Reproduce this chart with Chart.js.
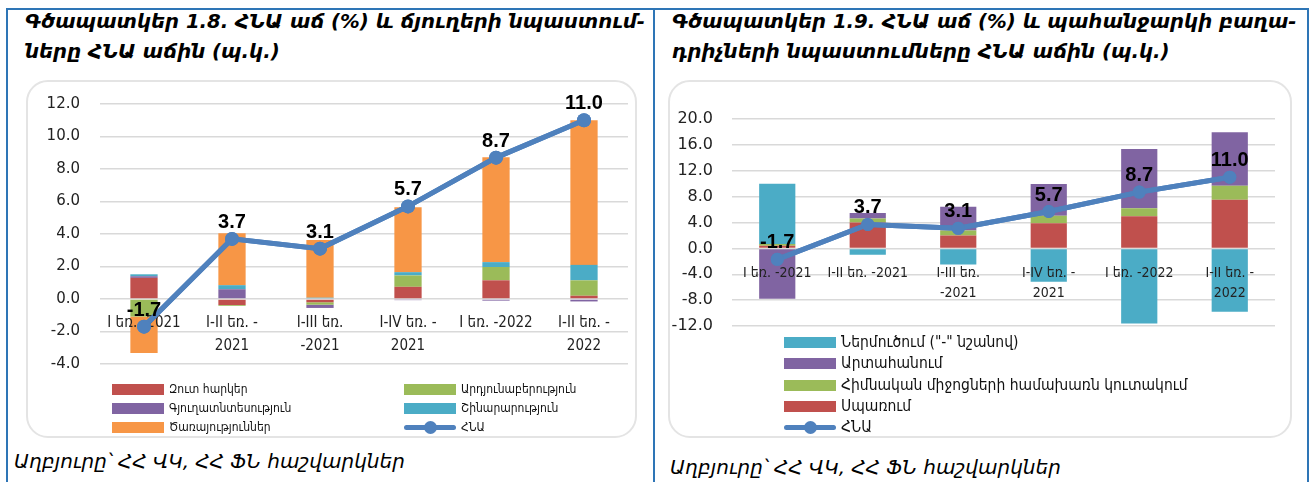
<!DOCTYPE html>
<html>
<head>
<meta charset="utf-8">
<script src="https://cdn.jsdelivr.net/npm/chart.js@4.4.0/dist/chart.umd.min.js"></script>
<style>
  body { margin: 0; background: #fff; width: 1309px; height: 482px; overflow: hidden; position: relative; font-family: "DejaVu Sans", sans-serif; color: #000; }
  .frame { position: absolute; left: 6px; top: 8px; width: 1299px; height: 480px; border: 2px solid #2E75B6; border-bottom: none; }
  .divider { position: absolute; left: 653px; top: 8px; width: 2px; height: 480px; background: #2E75B6; }
  .title { position: absolute; font-weight: bold; font-style: italic; font-size: 19.7px; white-space: nowrap; }
  .box { position: absolute; border: 2px solid #e4e4e4; border-radius: 22px; box-sizing: border-box; }
  .src { position: absolute; font-style: italic; font-size: 20px; white-space: nowrap; }
  .wrap { position: absolute; }
  .leg { position: absolute; display: flex; align-items: center; white-space: nowrap; color: #111; font-family: "DejaVu Sans Condensed", "DejaVu Sans", sans-serif; font-stretch: condensed; }
  .sw { width: 52px; height: 11px; margin-right: 5px; flex: none; }
  .ln { width: 52px; height: 11px; margin-right: 5px; position: relative; flex: none; }
  .ln::before { content: ""; position: absolute; left: 0; right: 0; top: 3px; height: 5px; background: #4F81BD; border-radius: 3px; }
  .ln::after { content: ""; position: absolute; left: 20px; top: -1px; width: 13px; height: 13px; border-radius: 50%; background: #4F81BD; }
</style>
</head>
<body>
<div class="frame"></div>
<div class="divider"></div>

<div class="title" style="left:25px;top:10px;">Գծապատկեր 1.8. ՀՆԱ աճ (%) և ճյուղերի նպաստում-</div>
<div class="title" style="left:25px;top:40px;">ները ՀՆԱ աճին (պ.կ.)</div>
<div class="title" style="left:672px;top:10px;">Գծապատկեր 1.9. ՀՆԱ աճ (%) և պահանջարկի բաղա-</div>
<div class="title" style="left:672px;top:40px;">դրիչների նպաստումները ՀՆԱ աճին (պ.կ.)</div>

<div class="box" style="left:26px;top:80px;width:611px;height:358px;"></div>
<div class="box" style="left:668px;top:80px;width:624px;height:358px;"></div>

<div class="wrap" style="left:26px;top:80px;width:610px;height:300px;"><canvas id="chartL" width="610" height="300"></canvas></div>
<div class="wrap" style="left:668px;top:80px;width:623px;height:270px;"><canvas id="chartR" width="623" height="270"></canvas></div>

<div class="src" style="left:14px;top:449px;">Աղբյուրը՝ ՀՀ ՎԿ, ՀՀ ՖՆ հաշվարկներ</div>
<div class="src" style="left:670px;top:455px;">Աղբյուրը՝ ՀՀ ՎԿ, ՀՀ ՖՆ հաշվարկներ</div>

<script>
// Chart 1.8 - sector contributions (p.p.)
const catsL = [["I եռ. -2021"], ["I-II եռ. -", "2021"], ["I-III եռ.", "-2021"], ["I-IV եռ. -", "2021"], ["I եռ. -2022"], ["I-II եռ. -", "2022"]];
const netTaxes = [1.3, -0.37, -0.2, 0.75, 1.15, 0.2];
const industry = [-1.08, -0.05, -0.15, 0.7, 0.82, 0.95];
const agriculture = [0.1, 0.6, -0.2, -0.07, -0.1, -0.15];
const construction = [0.12, 0.25, 0.08, 0.2, 0.3, 0.95];
const services = [-2.25, 3.2, 3.55, 4.0, 6.45, 8.9];
const gdpL = [-1.7, 3.7, 3.1, 5.7, 8.7, 11.0];

// Chart 1.9 - demand components contributions (p.p.)
const catsR = [["I եռ. -2021"], ["I-II եռ. -2021"], ["I-III եռ.", "-2021"], ["I-IV եռ. -", "2021"], ["I եռ. -2022"], ["I-II եռ. -", "2022"]];
const consumption = [0.4, 4.0, 2.0, 3.9, 4.95, 7.5];
const investment = [0.26, 0.6, 0.75, 1.15, 1.25, 2.2];
const exportsC = [-7.8, 0.85, 3.7, 4.9, 9.15, 8.25];
const importsC = [9.32, -1.0, -2.5, -5.15, -11.6, -9.8];
const gdpR = [-1.7, 3.7, 3.1, 5.7, 8.7, 11.0];

const RED = "#C0504D", GREEN = "#9BBB59", PURPLE = "#8064A2", CYAN = "#4BACC6", ORANGE = "#F79646", BLUE = "#4F81BD";

Chart.defaults.font.family = "'DejaVu Sans', sans-serif";
Chart.defaults.color = "#222";

// GDP line redrawn over the category labels, plus value labels above its points
const gdpLabels = {
  id: "gdpLabels",
  afterDraw(chart, args, opts) {
    const ctx = chart.ctx;
    chart.data.datasets.forEach((ds, i) => {
      if (ds.type !== "line") return;
      const meta = chart.getDatasetMeta(i);
      meta.controller.draw();
      ctx.save();
      ctx.font = "bold " + opts.size + "px 'Liberation Sans', Arial, sans-serif";
      ctx.fillStyle = "#000";
      ctx.textAlign = "center";
      ctx.textBaseline = "alphabetic";
      meta.data.forEach((pt, j) => {
        ctx.fillText(ds.data[j].toFixed(1), pt.x, pt.y - opts.gap);
      });
      ctx.restore();
    });
  }
};

function bar(label, data, color) {
  return { type: "bar", label: label, data: data, backgroundColor: color, order: 1, stack: "s" };
}

function makeChart(id, cats, bars, gdp, cfg) {
  new Chart(document.getElementById(id), {
    data: {
      labels: cats,
      datasets: bars.concat([{
        type: "line", label: "ՀՆԱ", data: gdp, stack: "gdp", order: 0,
        borderColor: BLUE, backgroundColor: BLUE, borderWidth: 5,
        pointRadius: cfg.pointR, pointBackgroundColor: BLUE, pointBorderWidth: 0
      }])
    },
    options: {
      responsive: false,
      animation: false,
      layout: { padding: cfg.padding },
      datasets: { bar: { barPercentage: cfg.barPct, categoryPercentage: 1 } },
      plugins: {
        legend: { display: false },
        tooltip: { enabled: false },
        gdpLabels: { size: 20, gap: cfg.gap }
      },
      scales: {
        x: {
          stacked: true,
          position: { y: 0 },
          grid: { display: false },
          border: { display: false },
          ticks: { z: 1, autoSkip: false, maxRotation: 0, padding: cfg.xPad, color: "#222",
                   font: { family: "'DejaVu Sans Condensed', 'DejaVu Sans', sans-serif", size: cfg.xSize, lineHeight: cfg.xLine } }
        },
        y: {
          stacked: true,
          min: cfg.min, max: cfg.max,
          afterFit: s => { s.width = cfg.yWidth; },
          grid: { color: "#d9d9d9", lineWidth: 1.5, drawTicks: true, tickLength: cfg.yGap, tickColor: "rgba(0,0,0,0)" },
          border: { display: false },
          ticks: { stepSize: cfg.step, padding: 4, font: { size: cfg.ySize }, color: "#222", callback: v => v.toFixed(1) }
        }
      }
    },
    plugins: [gdpLabels]
  });
}

makeChart("chartL", catsL, [
  bar("Զուտ հարկեր", netTaxes, RED),
  bar("Արդյունաբերություն", industry, GREEN),
  bar("Գյուղատնտեսություն", agriculture, PURPLE),
  bar("Շինարարություն", construction, CYAN),
  bar("Ծառայություններ", services, ORANGE)
], gdpL, { min: -4, max: 12, step: 2, padding: { top: 24, bottom: 16, right: 8, left: 0 }, yWidth: 74, yGap: 16, ySize: 15, barPct: 0.31, pointR: 7, gap: 11, xPad: 5, xSize: 15, xLine: 1.5 });

makeChart("chartR", catsR, [
  bar("Սպառում", consumption, RED),
  bar("Հիմնական միջոցների համախառն կուտակում", investment, GREEN),
  bar("Արտահանում", exportsC, PURPLE),
  bar("Ներմուծում (\"-\" նշանով)", importsC, CYAN)
], gdpR, { min: -12, max: 20, step: 4, padding: { top: 39, bottom: 24, right: 16, left: 0 }, yWidth: 64, yGap: 15, ySize: 16, barPct: 0.4, pointR: 6.5, gap: 11, xPad: 7, xSize: 14, xLine: 1.45 });

// HTML legends
function legendItem(x, y, size, text, color) {
  const d = document.createElement("div");
  d.className = "leg";
  d.style.left = x + "px";
  d.style.top = (y - 10) + "px";
  d.style.height = "20px";
  d.style.fontSize = size + "px";
  const s = document.createElement("span");
  if (color) { s.className = "sw"; s.style.background = color; } else { s.className = "ln"; }
  d.appendChild(s);
  d.appendChild(document.createTextNode(text));
  document.body.appendChild(d);
}
const legL = [["Զուտ հարկեր", RED, 112, 389], ["Արդյունաբերություն", GREEN, 404, 389],
              ["Գյուղատնտեսություն", PURPLE, 112, 408], ["Շինարարություն", CYAN, 404, 408],
              ["Ծառայություններ", ORANGE, 112, 427], ["ՀՆԱ", null, 404, 427]];
legL.forEach(l => legendItem(l[2], l[3], 12, l[0], l[1]));
const legR = [["Ներմուծում (\"-\" նշանով)", CYAN, 342], ["Արտահանում", PURPLE, 363],
              ["Հիմնական միջոցների համախառն կուտակում", GREEN, 385], ["Սպառում", RED, 406], ["ՀՆԱ", null, 427]];
legR.forEach(l => legendItem(784, l[2], 15.5, l[0], l[1]));
</script>
</body>
</html>
